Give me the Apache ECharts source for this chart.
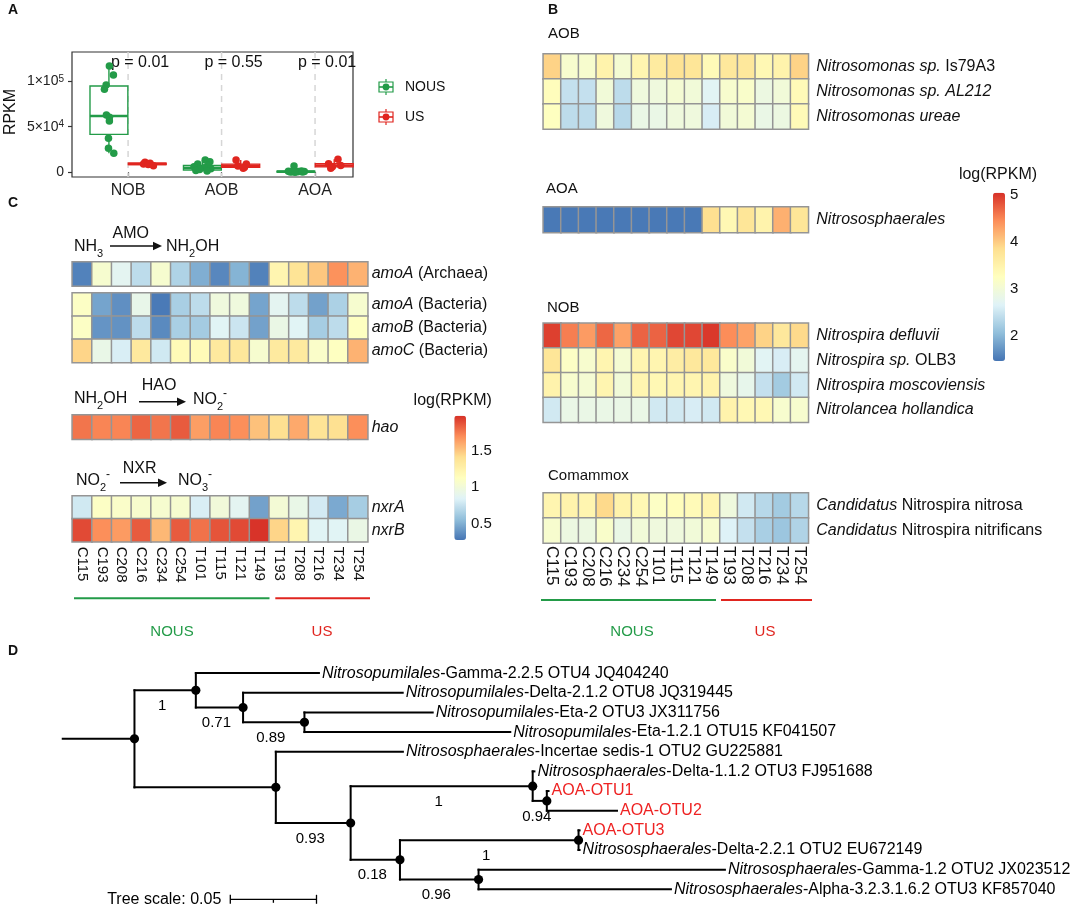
<!DOCTYPE html>
<html><head><meta charset="utf-8">
<script src="https://cdn.jsdelivr.net/npm/echarts@6/dist/echarts.min.js"></script>
<style>html,body{margin:0;padding:0;background:#fff}#c{width:1084px;height:909px}</style>
</head><body><div id="c"></div>
<script>
const FONT = '"Liberation Sans", Arial, Helvetica, sans-serif';
const TXT = '#111';
const GREEN = '#239b48', RED = '#e0251f';
const PAL = ['#4575B4','#91BFDB','#E0F3F8','#FFFFBF','#FEE090','#FC8D59','#D73027'];

// ---------------- Panel A data ----------------
const aCategories = ['NOB','AOB','AOA'];
const aGroups = ['NOUS','US'];
const aPValues = ['p = 0.01','p = 0.55','p = 0.01'];
const aTicks = [0, 50000, 100000];
const aTickLabels = ['0','5×10{s|4}','1×10{s|5}'];
// box stats [min, q1, median, q3, max]
const boxNOUS = [[20800,41600,61700,94600,116500],[1500,2600,5000,7600,13500],[100,300,700,1200,1500]];
const boxUS   = [[7300,8500,9200,10000,11000],[4400,5500,7000,9000,13500],[4400,6000,7500,9500,14200]];
const ptsNOUS = [
  [116500,106700,95700,91000,62800,60300,56200,37300,26300,20800],
  [13500,11500,9000,7500,6000,5000,4000,3000,2000,1500],
  [6900,1500,1200,900,800,700,500,300,200,100]];
const jitNOUS = [
  [0.005,0.048,-0.03,-0.048,-0.027,0.005,0.005,-0.005,-0.005,0.052],
  [0.03,0.08,-0.05,0.06,-0.09,0.02,0.09,-0.03,-0.07,0.05],
  [-0.02,0.06,-0.08,0.03,0.09,-0.04,0.01,-0.06,0.07,-0.01]];
const ptsUS = [
  [11000,10000,9200,8500,7300],
  [13500,9000,7000,5500,4400],
  [14200,9500,7500,6000,4400]];
const jitUS = [
  [-0.024,0.03,-0.04,0.01,0.066],
  [-0.05,0.06,-0.03,0.04,0.027],
  [0.04,-0.06,0.07,-0.02,-0.037]];

// ---------------- Heatmap data ----------------
const samples = ['C115','C193','C208','C216','C234','C254','T101','T115','T121','T149','T193','T208','T216','T234','T254'];

const bRowsAOB = ['Nitrosomonas sp. Is79A3','Nitrosomonas sp. AL212','Nitrosomonas ureae'];
const bRowsAOA = ['Nitrososphaerales'];
const bRowsNOB = ['Nitrospira defluvii','Nitrospira sp. OLB3','Nitrospira moscoviensis','Nitrolancea hollandica'];
const bRowsCom = ['Candidatus Nitrospira nitrosa','Candidatus Nitrospira nitrificans'];
const bAOB = [
 [3.95,3.10,3.10,3.50,3.05,3.45,3.65,3.80,3.75,3.35,3.70,3.70,3.40,3.50,3.95],
 [3.30,2.45,2.45,3.00,2.40,2.95,2.95,3.05,3.00,2.70,3.10,3.15,2.90,3.00,3.35],
 [3.25,2.40,2.40,2.95,2.35,2.85,2.85,2.95,2.95,2.60,3.00,3.05,2.85,2.90,3.35]];
const bAOA = [[1.50,1.50,1.50,1.50,1.50,1.50,1.50,1.50,1.50,3.85,3.40,3.75,3.50,4.20,3.75]];
const bNOB = [
 [4.95,4.55,4.35,4.70,4.30,4.72,4.72,4.90,4.90,5.00,4.45,4.30,3.95,3.70,3.90],
 [3.75,3.20,3.10,3.45,3.05,3.45,3.45,3.60,3.70,3.70,3.15,3.00,2.70,2.60,2.75],
 [3.50,3.10,3.05,3.45,3.00,3.45,3.40,3.45,3.45,3.50,2.95,2.80,2.45,2.20,2.55],
 [2.55,2.85,2.85,2.85,2.85,2.85,2.55,2.55,2.60,2.55,3.50,3.40,3.40,3.10,3.10]];
const bCom = [
 [3.45,3.50,3.45,3.90,3.50,3.40,3.20,3.30,3.35,3.45,2.95,2.55,2.35,2.20,2.35],
 [3.10,2.90,2.90,3.15,2.85,3.00,2.95,2.95,3.00,3.10,2.65,2.45,2.25,2.15,2.30]];
const bRange = [1.47, 5.05];
const bLegendTicks = [2,3,4,5];

const cRowsArch = ['amoA (Archaea)'];
const cRowsBact = ['amoA (Bacteria)','amoB (Bacteria)','amoC (Bacteria)'];
const cRowsHao = ['hao'];
const cRowsNxr = ['nxrA','nxrB'];
const cArch = [[0.33,1.05,0.88,0.72,1.05,0.67,0.50,0.35,0.52,0.33,1.22,1.38,1.50,1.68,1.57]];
const cBact = [
 [1.10,0.46,0.38,0.92,0.30,0.65,0.72,0.98,0.98,0.46,0.88,0.72,0.45,0.66,1.05],
 [1.10,0.40,0.39,0.72,0.36,0.65,0.63,0.86,0.77,0.45,0.94,0.86,0.64,0.72,1.12],
 [1.45,0.93,0.82,1.33,0.79,1.18,1.17,1.33,1.35,1.05,1.32,1.32,1.08,1.12,1.57]];
const cHao = [[1.77,1.72,1.72,1.82,1.77,1.85,1.64,1.72,1.69,1.52,1.41,1.60,1.38,1.40,1.69]];
const cNxr = [
 [0.79,1.10,1.08,1.06,1.05,1.05,0.82,1.00,0.88,0.45,1.02,0.93,0.80,0.48,0.64],
 [1.90,1.69,1.65,1.85,1.55,1.85,1.78,1.87,1.90,1.97,1.45,1.22,0.86,0.86,0.94]];
const cRange = [0.28, 1.98];
const cLegendTicks = [0.5, 1, 1.5];

const italicPrefix = {
 'Nitrosomonas sp. Is79A3':'Nitrosomonas sp.', 'Nitrosomonas sp. AL212':'Nitrosomonas sp. AL212',
 'Nitrosomonas ureae':'Nitrosomonas ureae', 'Nitrososphaerales':'Nitrososphaerales',
 'Nitrospira defluvii':'Nitrospira defluvii', 'Nitrospira sp. OLB3':'Nitrospira sp.',
 'Nitrospira moscoviensis':'Nitrospira moscoviensis', 'Nitrolancea hollandica':'Nitrolancea hollandica',
 'Candidatus Nitrospira nitrosa':'Candidatus', 'Candidatus Nitrospira nitrificans':'Candidatus',
 'amoA (Archaea)':'amoA','amoA (Bacteria)':'amoA','amoB (Bacteria)':'amoB','amoC (Bacteria)':'amoC',
 'hao':'hao','nxrA':'nxrA','nxrB':'nxrB'
};

// ---------------- Tree data ----------------
const treeNames = ['', '', 'Nitrosopumilales-Gamma-2.2.5 OTU4 JQ404240', '', 'Nitrosopumilales-Delta-2.1.2 OTU8 JQ319445', '',
 'Nitrosopumilales-Eta-2 OTU3 JX311756', 'Nitrosopumilales-Eta-1.2.1 OTU15 KF041507', '', 'Nitrososphaerales-Incertae sedis-1 OTU2 GU225881',
 '', '', 'Nitrososphaerales-Delta-1.1.2 OTU3 FJ951688', '', 'AOA-OTU1', 'AOA-OTU2', '', '', 'AOA-OTU3',
 'Nitrososphaerales-Delta-2.2.1 OTU2 EU672149', '', 'Nitrososphaerales-Gamma-1.2 OTU2 JX023512', 'Nitrososphaerales-Alpha-3.2.3.1.6.2 OTU3 KF857040'];
const treeParent = [-1,0,1,1,3,3,5,5,0,8,8,10,11,11,13,13,10,16,17,17,16,20,20];
const treeBranch = [0.0416,0.0356,0.0714,0.0274,0.0926,0.0356,0.0744,0.1194,0.082,0.0737,0.0434,0.1056,0.001,0.0082,0.001,0.0407,0.0286,0.1036,0.0006,0.0006,0.0456,0.1429,0.1116];
const treeSupport = ['','1','','0.71','','0.89','','','','','0.93','1','','0.94','','','0.18','1','','','0.96','',''];
const treeScale = 0.05;

// ---------------- helpers ----------------
function fmtRow(v){
  const it = italicPrefix[v];
  if (it === undefined) return v;
  const rest = v.slice(it.length);
  return '{i|' + it + '}' + (rest ? '{n|' + rest + '}' : '');
}
function hmData(m){ const d=[]; m.forEach((row,r)=>row.forEach((v,c)=>d.push([c,r,v]))); return d; }

const grids = [], xAxes = [], yAxes = [], series = [];
function addGrid(g){ grids.push(g); return grids.length-1; }

function heatBlock(box, rows, matrix, rowFs, rowMargin, colLabel){
  const gi = addGrid(box);
  xAxes.push({gridIndex:gi, type:'category', data:samples, axisLine:{show:false}, axisTick:{show:false}, splitLine:{show:false},
    axisLabel: colLabel ? {show:true, interval:0, rotate:-90, fontSize:colLabel.fs, fontFamily:FONT, color:TXT, margin:colLabel.m} : {show:false}});
  yAxes.push({gridIndex:gi, type:'category', data:rows, inverse:true, position:'right', axisLine:{show:false}, axisTick:{show:false}, splitLine:{show:false},
    axisLabel:{show:true, interval:0, fontSize:rowFs, fontFamily:FONT, color:TXT, margin:rowMargin, formatter:fmtRow,
      rich:{i:{fontStyle:'italic', fontSize:rowFs, fontFamily:FONT, color:TXT}, n:{fontSize:rowFs, fontFamily:FONT, color:TXT}}}});
  series.push({type:'heatmap', xAxisIndex:gi, yAxisIndex:gi, data:hmData(matrix), progressive:0,
    itemStyle:{borderColor:'#959595', borderWidth:1.5}, emphasis:{disabled:true}});
  return series.length-1;
}

// ---------------- Panel A ----------------
const A_OFF = 0.205, A_BOXW = 0.405;
const gA = addGrid({left:72, top:52, width:281, height:125, show:true, borderColor:'#333', borderWidth:1.2});
xAxes.push({gridIndex:gA, type:'value', min:0.4, max:3.406, axisLine:{show:false}, splitLine:{show:false},
  axisTick:{show:true, customValues:[1,2,3], length:4, lineStyle:{color:'#333', width:1.2}},
  axisLabel:{customValues:[1,2,3], formatter:v=>aCategories[Math.round(v)-1], fontSize:16, fontFamily:FONT, color:'#222', margin:6}});
yAxes.push({gridIndex:gA, type:'value', min:-5150, max:131900, axisLine:{show:false}, splitLine:{show:false},
  axisTick:{show:true, customValues:aTicks, length:4, lineStyle:{color:'#333', width:1.2}},
  axisLabel:{customValues:aTicks, formatter:v=>aTickLabels[aTicks.indexOf(v)], fontSize:14, fontFamily:FONT, color:'#222', margin:8,
    rich:{s:{fontSize:10, fontFamily:FONT, color:'#222', verticalAlign:'top', lineHeight:10, padding:[0,0,6,0]}}}});

series.push({type:'custom', xAxisIndex:gA, yAxisIndex:gA, z:1, silent:true, clip:false,
  data:aCategories.map((c,i)=>[i+1, 0]),
  renderItem:(params, api)=>{
    const cs = params.coordSys; const x = api.coord([api.value(0), 0])[0];
    return {type:'group', children:[
      {type:'line', shape:{x1:x, y1:cs.y, x2:x, y2:cs.y+cs.height}, style:{stroke:'#d6d6d6', lineWidth:1.5, lineDash:[6,5]}},
      {type:'text', x:x+12, y:cs.y+11, style:{text:aPValues[params.dataIndex], fontSize:16, fontFamily:FONT, fill:'#111', align:'center', verticalAlign:'middle'}}
    ]};
  }});
const aBoxData = [];
aCategories.forEach((c,i)=>{ aBoxData.push([i+1,0].concat(boxNOUS[i])); aBoxData.push([i+1,1].concat(boxUS[i])); });
series.push({type:'custom', xAxisIndex:gA, yAxisIndex:gA, z:2, silent:true, data:aBoxData,
  renderItem:(params, api)=>{
    const c = api.value(0), g = api.value(1);
    const cx = api.coord([c + (g===0 ? -A_OFF : A_OFF), 0])[0];
    const hw = api.size([A_BOXW/2, 0])[0];
    const Y = k => api.coord([c, api.value(k)])[1];
    const yMin=Y(2), yQ1=Y(3), yMed=Y(4), yQ3=Y(5), yMax=Y(6);
    const col = g===0 ? GREEN : RED;
    return {type:'group', children:[
      {type:'line', shape:{x1:cx,y1:yMax,x2:cx,y2:yQ3}, style:{stroke:col, lineWidth:1.4}},
      {type:'line', shape:{x1:cx,y1:yQ1,x2:cx,y2:yMin}, style:{stroke:col, lineWidth:1.4}},
      {type:'rect', shape:{x:cx-hw, y:yQ3, width:2*hw, height:Math.max(yQ1-yQ3,0.5)}, style:{fill:'#fff', stroke:col, lineWidth:1.4}},
      {type:'line', shape:{x1:cx-hw,y1:yMed,x2:cx+hw,y2:yMed}, style:{stroke:col, lineWidth:2.6}}
    ]};
  }});
function ptData(pts, jit, g){ const d=[]; pts.forEach((arr,i)=>arr.forEach((v,k)=>d.push([i+1+(g===0?-A_OFF:A_OFF)+jit[i][k], v]))); return d; }
series.push({type:'scatter', name:'NOUS', xAxisIndex:gA, yAxisIndex:gA, z:3, symbolSize:7.5, itemStyle:{color:GREEN, opacity:1}, data:ptData(ptsNOUS, jitNOUS, 0), silent:true});
series.push({type:'scatter', name:'US', xAxisIndex:gA, yAxisIndex:gA, z:3, symbolSize:7.5, itemStyle:{color:RED, opacity:1}, data:ptData(ptsUS, jitUS, 1), silent:true});

// ---------------- Panel B heatmaps ----------------
const BL = 543.3, BW = 265;
const sB = [
  heatBlock({left:BL, top:54, width:BW, height:75}, bRowsAOB, bAOB, 16, 8, null),
  heatBlock({left:BL, top:207, width:BW, height:25.5}, bRowsAOA, bAOA, 16, 8, null),
  heatBlock({left:BL, top:323.3, width:BW, height:99}, bRowsNOB, bNOB, 16, 8, null),
  heatBlock({left:BL, top:493, width:BW, height:50}, bRowsCom, bCom, 16, 8, {fs:17, m:3})
];
// ---------------- Panel C heatmaps ----------------
const CL = 72.3, CW = 295.4;
const sC = [
  heatBlock({left:CL, top:262, width:CW, height:24}, cRowsArch, cArch, 16, 4, null),
  heatBlock({left:CL, top:293, width:CW, height:69.5}, cRowsBact, cBact, 16, 4, null),
  heatBlock({left:CL, top:415, width:CW, height:24.3}, cRowsHao, cHao, 16, 4, null),
  heatBlock({left:CL, top:496, width:CW, height:45.7}, cRowsNxr, cNxr, 16, 4, {fs:15, m:5})
];

// colorbar tick axes
function legendAxis(box, range, ticks){
  const gi = addGrid(box);
  xAxes.push({gridIndex:gi, type:'value', min:0, max:1, show:false});
  yAxes.push({gridIndex:gi, type:'value', min:range[0], max:range[1], position:'right', axisLine:{show:false}, axisTick:{show:false}, splitLine:{show:false},
    axisLabel:{customValues:ticks, fontSize:15, fontFamily:FONT, color:TXT, margin:5}});
}
const bBar = {left:993, top:192.7, width:12, height:168.3};
const cBar = {left:454.3, top:415.7, width:11.7, height:124.3};
legendAxis(bBar, bRange, bLegendTicks);
legendAxis(cBar, cRange, cLegendTicks);

// ---------------- Panel D tree ----------------
const gD = addGrid({left:0, top:653.45, width:1084, height:258.05});
xAxes.push({gridIndex:gD, type:'value', min:-0.078, max:0.5508, show:false});
yAxes.push({gridIndex:gD, type:'value', min:-1, max:12, inverse:true, show:false});
function layoutTree(){
  const n = treeParent.length, kids = Array.from({length:n},()=>[]);
  treeParent.forEach((p,i)=>{ if(p>=0) kids[p].push(i); });
  const x = new Array(n), y = new Array(n); let leaf = 0;
  (function visit(i, px){
    x[i] = i===0 ? 0 : px + treeBranch[i];
    if (!kids[i].length) { y[i] = leaf++; }
    else { kids[i].forEach(k=>visit(k, x[i])); y[i] = (y[kids[i][0]] + y[kids[i][kids[i].length-1]])/2; }
  })(0, 0);
  return treeParent.map((p,i)=>{
    const k = kids[i];
    return [x[i], y[i], i===0 ? -treeBranch[0] : x[p], k.length ? y[k[0]] : y[i], k.length ? y[k[k.length-1]] : y[i], k.length ? 1 : 0, i];
  });
}
series.push({type:'custom', xAxisIndex:gD, yAxisIndex:gD, silent:true, clip:false, data:layoutTree(),
  renderItem:(params, api)=>{
    const x=api.value(0), y=api.value(1), px=api.value(2), yt=api.value(3), yb=api.value(4), internal=api.value(5), idx=api.value(6);
    const p = api.coord([x,y]), pp = api.coord([px,y]);
    const ch = [{type:'line', shape:{x1:pp[0],y1:p[1],x2:p[0],y2:p[1]}, style:{stroke:'#000', lineWidth:2, lineCap:'square'}}];
    if (internal) {
      const a = api.coord([x,yt]), b = api.coord([x,yb]);
      ch.push({type:'line', shape:{x1:a[0],y1:a[1],x2:b[0],y2:b[1]}, style:{stroke:'#000', lineWidth:2, lineCap:'square'}});
      ch.push({type:'circle', shape:{cx:p[0], cy:p[1], r:4.6}, style:{fill:'#000'}});
    } else {
      const name = treeNames[idx];
      const isOTU = name.indexOf('AOA-') === 0;
      let text, rich = {i:{fontStyle:'italic', fontSize:16, fontFamily:FONT, fill:'#000'}};
      if (isOTU) text = name; else { const k = name.indexOf('-'); text = '{i|'+name.slice(0,k)+'}'+name.slice(k); }
      ch.push({type:'text', x:p[0]+3, y:p[1], style:{text:text, rich:rich, fontSize:16, fontFamily:FONT, fill:isOTU?'#ee2222':'#000', align:'left', verticalAlign:'middle'}});
    }
    const sup = treeSupport[idx];
    if (sup) ch.push({type:'text', x:(pp[0]+p[0])/2-3, y:p[1]+15.5, style:{text:sup, fontSize:15, fontFamily:FONT, fill:'#000', align:'center', verticalAlign:'middle'}});
    return {type:'group', children:ch};
  }});
series.push({type:'custom', xAxisIndex:gD, yAxisIndex:gD, silent:true, clip:false, data:[[treeScale, 0]],
  renderItem:(params, api)=>{
    const len = api.size([api.value(0), 0])[0];
    const x0 = 230.3, y0 = 899.3;
    const st = {stroke:'#000', lineWidth:1.3};
    return {type:'group', children:[
      {type:'line', shape:{x1:x0,y1:y0,x2:x0+len,y2:y0}, style:st},
      {type:'line', shape:{x1:x0,y1:y0-4.5,x2:x0,y2:y0+4.5}, style:st},
      {type:'line', shape:{x1:x0+len,y1:y0-4.5,x2:x0+len,y2:y0+4.5}, style:st},
      {type:'line', shape:{x1:x0+len/2,y1:y0,x2:x0+len/2,y2:y0+3.5}, style:st},
      {type:'text', x:x0-9, y:y0, style:{text:'Tree scale: ' + api.value(0), fontSize:16, fontFamily:FONT, fill:'#000', align:'right', verticalAlign:'middle'}}
    ]};
  }});

// ---------------- graphics ----------------
function T(x, y, text, o){ o = o||{}; return {type:'text', x:x, y:y, rotation:o.rot||0, z:10, style:Object.assign({text:text, fontSize:o.fs||16, fontFamily:FONT, fill:o.fill||TXT, fontWeight:o.fw||'normal', align:o.align||'left', verticalAlign:'middle'}, o.style||{})}; }
function L(x1,y1,x2,y2,col,w){ return {type:'line', z:10, shape:{x1,y1,x2,y2}, style:{stroke:col, lineWidth:w}}; }
function arrow(x1, x2, y){ return {type:'group', z:10, children:[
  {type:'line', shape:{x1:x1, y1:y, x2:x2-6, y2:y}, style:{stroke:'#111', lineWidth:1.6}},
  {type:'polygon', shape:{points:[[x2,y],[x2-9,y-4.2],[x2-9,y+4.2]]}, style:{fill:'#111'}}]}; }
const chemRich = {
  sub:{fontSize:11, fontFamily:FONT, fill:TXT, verticalAlign:'bottom', lineHeight:11},
  sup:{fontSize:12, fontFamily:FONT, fill:TXT, verticalAlign:'top', lineHeight:12}
};
function chem(x, y, text){ return T(x, y, text, {style:{rich:chemRich, lineHeight:24}}); }
function legendKey(y, col){ return {type:'group', z:10, children:[
  {type:'line', shape:{x1:386, y1:y-8, x2:386, y2:y+8}, style:{stroke:col, lineWidth:1.2}},
  {type:'rect', shape:{x:379, y:y-5, width:14, height:10}, style:{fill:'#fff', stroke:col, lineWidth:1.2}},
  {type:'line', shape:{x1:379, y1:y, x2:393, y2:y}, style:{stroke:col, lineWidth:1.6}},
  {type:'circle', shape:{cx:386, cy:y, r:3.4}, style:{fill:col}}]}; }

const graphic = [
  T(8, 10, 'A', {fs:14, fw:'bold'}), T(548, 10, 'B', {fs:14, fw:'bold'}), T(8, 203, 'C', {fs:14, fw:'bold'}), T(8, 651, 'D', {fs:14, fw:'bold'}),
  T(11, 112, 'RPKM', {fs:16, align:'center', rot:Math.PI/2}),
  legendKey(87, GREEN), legendKey(117, RED),
  T(405, 87, aGroups[0], {fs:14}), T(405, 117, aGroups[1], {fs:14}),
  // panel B section labels
  T(548, 34, 'AOB', {fs:15}), T(546, 189, 'AOA', {fs:15}), T(547, 308, 'NOB', {fs:15}), T(548, 476, 'Comammox', {fs:15}),
  T(998, 175, 'log(RPKM)', {fs:16, align:'center'}),
  L(541, 600, 716, 600, GREEN, 2), L(721, 600, 812, 600, RED, 2),
  T(632, 632, 'NOUS', {fs:15, fill:GREEN, align:'center'}), T(765, 632, 'US', {fs:15, fill:RED, align:'center'}),
  // panel C reaction labels
  chem(74, 247, 'NH{sub|3}'), T(130.7, 234, 'AMO', {align:'center'}), arrow(110, 162, 246), chem(166, 247, 'NH{sub|2}OH'),
  chem(74, 399, 'NH{sub|2}OH'), T(159, 386, 'HAO', {align:'center'}), arrow(139, 186, 401.7), chem(193, 400, 'NO{sub|2}{sup|-}'),
  chem(76, 481, 'NO{sub|2}{sup|-}'), T(139.7, 469, 'NXR', {align:'center'}), arrow(120, 167, 482.7), chem(178, 481, 'NO{sub|3}{sup|-}'),
  T(452.7, 400.7, 'log(RPKM)', {fs:16, align:'center'}),
  L(74, 598.3, 269.5, 598.3, GREEN, 2), L(275.3, 598.3, 370, 598.3, RED, 2),
  T(172, 632, 'NOUS', {fs:15, fill:GREEN, align:'center'}), T(322, 632, 'US', {fs:15, fill:RED, align:'center'})
];

const option = {
  animation:false,
  backgroundColor:'#fff',
  grid:grids, xAxis:xAxes, yAxis:yAxes, series:series,
  visualMap:[
    {type:'continuous', seriesIndex:sB, min:bRange[0], max:bRange[1], calculable:false, show:true, hoverLink:false,
     left:bBar.left, top:bBar.top, itemWidth:bBar.width, itemHeight:bBar.height, padding:0, inRange:{color:PAL}},
    {type:'continuous', seriesIndex:sC, min:cRange[0], max:cRange[1], calculable:false, show:true, hoverLink:false,
     left:cBar.left, top:cBar.top, itemWidth:cBar.width, itemHeight:cBar.height, padding:0, inRange:{color:PAL}}
  ],
  graphic:graphic
};
const chart = echarts.init(document.getElementById('c'), null, {renderer:'canvas'});
chart.setOption(option);
</script></body></html>
